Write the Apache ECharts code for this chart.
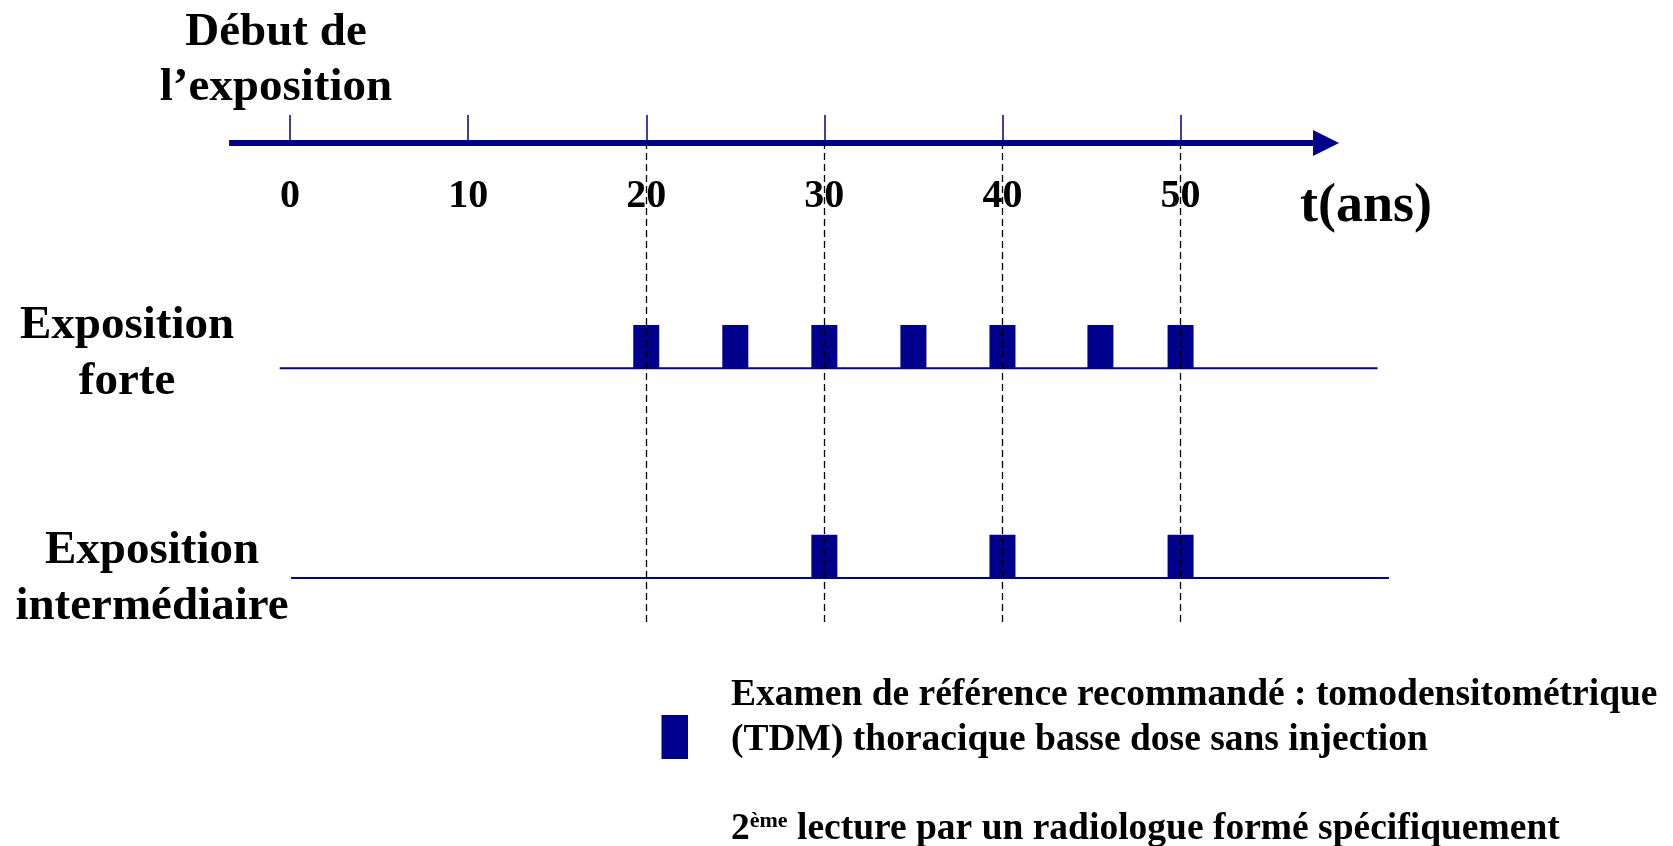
<!DOCTYPE html>
<html>
<head>
<meta charset="utf-8">
<title>Suivi TDM</title>
<script src="https://cdn.jsdelivr.net/npm/echarts@6/dist/echarts.min.js"></script>
<style>
html, body { margin: 0; padding: 0; background: #fff; }
#chart { width: 1673px; height: 846px; }
</style>
</head>
<body>
<div id="chart"></div>
<script>
// axe du temps (annees)
const ticks = [0, 10, 20, 30, 40, 50];
const dashedYears = [20, 30, 40, 50];
// examens TDM selon le niveau d'exposition
const forteYears = [20, 25, 30, 35, 40, 45.5, 50];
const interYears = [30, 40, 50];
// etendue des lignes (axe du temps et rangs)
const timeSpan = [-3.42, 58.17];
const forteSpan = [-0.58, 61.06];
const interSpan = [0.06, 61.7];

const NAVY = '#00008C';
const FONT = '"Liberation Serif", "Times New Roman", serif';
const TIME_Y = 100, FORTE_Y = 53, INTER_Y = 9.2, BAR_H = 9;

var chart = echarts.init(document.getElementById('chart'));

function barItem(level) {
  return function (params, api) {
    var x = api.value(0);
    var p0 = api.coord([x, level]);
    var p1 = api.coord([x, level + BAR_H]);
    return {
      type: 'rect',
      shape: { x: p0[0] - 13, y: p1[1], width: 26, height: p0[1] - p1[1] },
      style: { fill: NAVY }
    };
  };
}

function rowLine(span, level) {
  return {
    type: 'line',
    data: [[span[0], level], [span[1], level]],
    showSymbol: false,
    z: 1,
    lineStyle: { color: NAVY, width: 2 }
  };
}

var option = {
  animation: false,
  grid: { left: 227.7, width: 1166.6, top: 143, bottom: 224 },
  xAxis: {
    type: 'value',
    position: 'top',
    min: -3.5,
    max: 62,
    axisLine: { show: false, onZero: false },
    axisTick: {
      show: true,
      customValues: ticks,
      length: 28,
      lineStyle: { color: NAVY, width: 1.5 }
    },
    axisLabel: {
      show: true,
      customValues: ticks,
      inside: true,
      margin: 54,
      verticalAlign: 'middle',
      color: '#000',
      fontFamily: FONT,
      fontWeight: 'bold',
      fontSize: 40
    },
    splitLine: { show: false }
  },
  yAxis: { type: 'value', min: 0, max: 100, show: false },
  series: [
    rowLine(forteSpan, FORTE_Y),
    rowLine(interSpan, INTER_Y),
    {
      // axe du temps avec fleche
      type: 'line',
      data: [],
      z: 4,
      markLine: {
        silent: true,
        symbol: ['none', 'triangle'],
        symbolSize: [26, 26],
        label: { show: false },
        lineStyle: { color: NAVY, type: 'solid', width: 6 },
        data: [[{ coord: [timeSpan[0], TIME_Y] }, { coord: [timeSpan[1], TIME_Y] }]]
      }
    },
    {
      type: 'custom',
      z: 3,
      renderItem: barItem(FORTE_Y),
      data: forteYears.map(function (v) { return [v, FORTE_Y]; })
    },
    {
      type: 'custom',
      z: 3,
      renderItem: barItem(INTER_Y),
      data: interYears.map(function (v) { return [v, INTER_Y]; })
    },
    {
      type: 'line',
      data: [],
      z: 5,
      markLine: {
        silent: true,
        symbol: 'none',
        label: { show: false },
        lineStyle: { color: '#000', type: [7, 4], width: 1.3 },
        data: dashedYears.map(function (v) { return { xAxis: v }; })
      }
    }
  ],
  graphic: [
    {
      type: 'text', z: 10,
      style: { text: 'Début de\nl’exposition', x: 276, y: 60, align: 'center', verticalAlign: 'middle',
        fontFamily: FONT, fontWeight: 'bold', fontSize: 47, lineHeight: 55, fill: '#000' }
    },
    {
      type: 'text', z: 10,
      style: { text: 't(ans)', x: 1300, y: 207, align: 'left', verticalAlign: 'middle',
        fontFamily: FONT, fontWeight: 'bold', fontSize: 54, fill: '#000' }
    },
    {
      type: 'text', z: 10,
      style: { text: 'Exposition\nforte', x: 127, y: 354, align: 'center', verticalAlign: 'middle',
        fontFamily: FONT, fontWeight: 'bold', fontSize: 47, lineHeight: 56, fill: '#000' }
    },
    {
      type: 'text', z: 10,
      style: { text: 'Exposition\nintermédiaire', x: 152, y: 579, align: 'center', verticalAlign: 'middle',
        fontFamily: FONT, fontWeight: 'bold', fontSize: 47, lineHeight: 56, fill: '#000' }
    },
    {
      type: 'rect', z: 10,
      shape: { x: 661.5, y: 715, width: 26.5, height: 44 },
      style: { fill: NAVY }
    },
    {
      type: 'text', z: 10,
      style: { text: 'Examen de référence recommandé : tomodensitométrique\n(TDM) thoracique basse dose sans injection',
        x: 731, y: 717.5, align: 'left', verticalAlign: 'middle',
        fontFamily: FONT, fontWeight: 'bold', fontSize: 37.5, lineHeight: 45, fill: '#000' }
    },
    {
      type: 'text', z: 10,
      style: {
        text: '{a|2}{b|ème}{a| lecture par un radiologue formé spécifiquement}',
        x: 731, y: 829.5, align: 'left', verticalAlign: 'middle',
        rich: {
          a: { fontFamily: FONT, fontWeight: 'bold', fontSize: 37.5, fill: '#000' },
          b: { fontFamily: FONT, fontWeight: 'bold', fontSize: 22, fill: '#000', verticalAlign: 'top' }
        }
      }
    }
  ]
};

chart.setOption(option);
</script>
</body>
</html>
